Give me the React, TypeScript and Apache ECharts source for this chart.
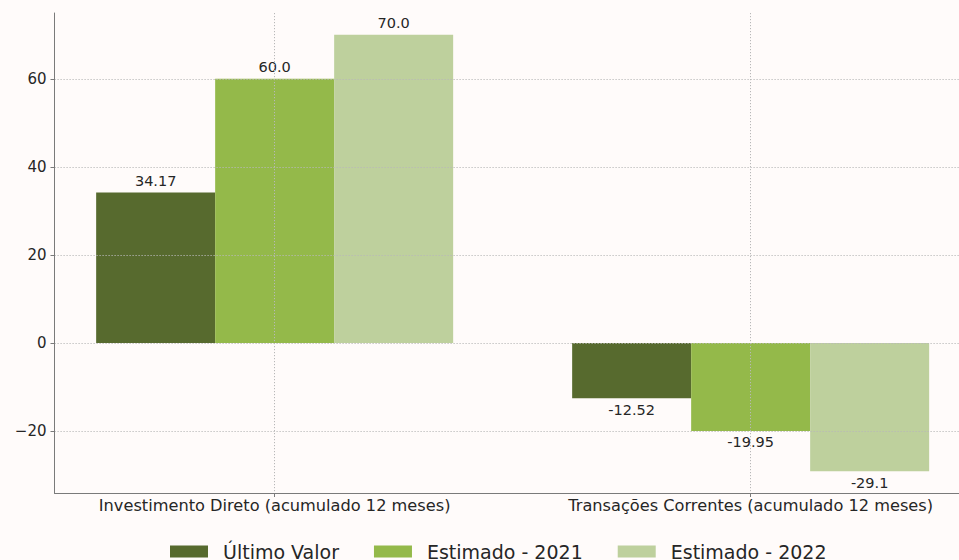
import React, { useEffect, useRef } from "react";
import * as echarts from "echarts";

const categories = [
  "Investimento Direto (acumulado 12 meses)",
  "Transações Correntes (acumulado 12 meses)",
];
const seriesNames = ["Último Valor", "Estimado - 2021", "Estimado - 2022"];
const ultimoValor = [34.17, -12.52];
const estimado2021 = [60.0, -19.95];
const estimado2022 = [70.0, -29.1];
const seriesColors = ["#576a2e", "#94b94a", "#bed09d"];
const yTicks = [-20, 0, 20, 40, 60];
const xTicks = [0, 1];

const TEXT = "#262626";
const SPINE = "#7a7a7a";
const GRID = "#b8b8b8";
const FONT = "DejaVu Sans";

export default function App() {
  const ref = useRef<HTMLDivElement>(null);
  useEffect(() => {
    document.body.style.margin = "0";
    document.body.style.overflow = "hidden";
    if (!ref.current) return;
    const chart = echarts.init(ref.current, undefined, { renderer: "svg" });
    const fmtVal = (v: number) =>
      Number.isInteger(v) ? v.toFixed(1) : String(v);
    const allSeries = [ultimoValor, estimado2021, estimado2022];
    chart.setOption({
      animation: false,
      backgroundColor: "#fffbfa",
      textStyle: { fontFamily: FONT },
      grid: { left: 54.5, top: 13, width: 916.3, bottom: 67, containLabel: false },
      xAxis: {
        type: "value",
        min: -0.4625,
        max: 1.4625,
        z: 3,
        axisLine: { show: true, onZero: false, lineStyle: { color: SPINE, width: 1 } },
        axisTick: { show: true, inside: false, length: 4, customValues: xTicks, lineStyle: { color: SPINE } },
        axisLabel: {
          customValues: xTicks,
          formatter: (v: number) => categories[Math.round(v)] ?? "",
          color: TEXT,
          fontSize: 16.2,
          fontFamily: FONT,
          margin: 4,
        },
        splitLine: { show: true, lineStyle: { color: GRID, type: [1.2, 1.8], width: 1 } },
      },
      yAxis: {
        type: "value",
        min: -34.055,
        max: 74.955,
        z: 3,
        axisLine: { show: true, onZero: false, lineStyle: { color: SPINE, width: 1 } },
        axisTick: { show: true, inside: false, length: 4, customValues: yTicks, lineStyle: { color: SPINE } },
        axisLabel: {
          customValues: yTicks,
          formatter: (v: number) => String(v).replace("-", "\u2212"),
          color: TEXT,
          fontSize: 15,
          fontFamily: FONT,
          margin: 8,
        },
        splitLine: { show: true, lineStyle: { color: GRID, type: [1.2, 1.8], width: 1 } },
      },
      legend: {
        left: 165,
        top: 537,
        itemWidth: 38,
        itemHeight: 12,
        itemGap: 35,
        icon: "rect",
        textStyle: { color: TEXT, fontSize: 19, fontFamily: FONT, padding: [0, 0, 0, 10] },
        data: seriesNames,
      },
      series: allSeries.map((vals, si) => ({
        type: "bar",
        name: seriesNames[si],
        barWidth: "25%",
        barGap: "0%",
        itemStyle: { color: seriesColors[si] },
        data: vals.map((v, i) => ({
          value: [xTicks[i], v],
          label: {
            show: true,
            position: v >= 0 ? "top" : "bottom",
            distance: 4,
            formatter: () => fmtVal(v),
            color: TEXT,
            fontSize: 14.5,
            fontFamily: FONT,
          },
        })),
      })),
    });
    return () => chart.dispose();
  }, []);
  return (
    <div style={{ position: "fixed", left: 0, top: 0, width: 959, height: 560, overflow: "hidden" }}>
      <div ref={ref} style={{ width: 1000, height: 560 }} />
    </div>
  );
}
